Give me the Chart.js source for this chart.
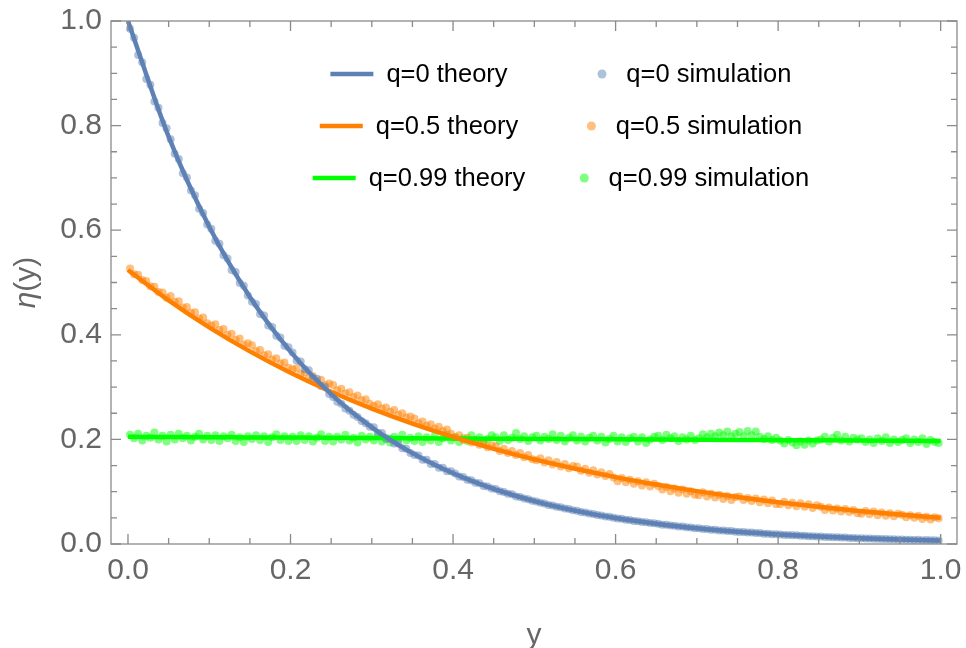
<!DOCTYPE html>
<html>
<head>
<meta charset="utf-8">
<title>eta(y)</title>
<script src="https://cdn.jsdelivr.net/npm/chart.js@4.4.1/dist/chart.umd.min.js"></script>
<style>
  html, body { margin: 0; padding: 0; background: #ffffff; }
  #wrap { width: 966px; height: 648px; }
</style>
</head>
<body>
<div id="wrap"><canvas id="eta-canvas"></canvas></div>
<script>
/* ================================================
   DATA
================================================ */

const seriesLabels = [
  'q=0 theory', 'q=0.5 theory', 'q=0.99 theory',
  'q=0 simulation', 'q=0.5 simulation', 'q=0.99 simulation',
];

const majorTicks = [0, 0.2, 0.4, 0.6, 0.8, 1.0];
const minorTicks = [0, 0.05, 0.1, 0.15, 0.2, 0.25, 0.3, 0.35, 0.4, 0.45, 0.5,
                    0.55, 0.6, 0.65, 0.7, 0.75, 0.8, 0.85, 0.9, 0.95, 1.0];

/* theory curves, read every 0.05 */
const theoryX = [0, 0.05, 0.1, 0.15, 0.2, 0.25, 0.3, 0.35, 0.4, 0.45, 0.5,
                 0.55, 0.6, 0.65, 0.7, 0.75, 0.8, 0.85, 0.9, 0.95, 1.0];
const q0Theory   = [1.000, 0.7788, 0.6065, 0.4724, 0.3679, 0.2865, 0.2231, 0.1738, 0.1353, 0.1054, 0.0821,
                    0.0639, 0.0498, 0.0388, 0.0302, 0.0235, 0.0183, 0.0143, 0.0111, 0.0087, 0.0067];
const q05Theory  = [0.524, 0.4659, 0.4143, 0.3683, 0.3275, 0.2912, 0.2589, 0.2302, 0.2047, 0.1820, 0.1618,
                    0.1439, 0.1279, 0.1138, 0.1011, 0.0899, 0.0800, 0.0711, 0.0632, 0.0562, 0.0500];
const q099Theory = [0.2050, 0.2046, 0.2042, 0.2038, 0.2034, 0.2030, 0.2026, 0.2022, 0.2018, 0.2014, 0.2010,
                    0.2006, 0.2002, 0.1998, 0.1994, 0.1990, 0.1986, 0.1982, 0.1978, 0.1974, 0.1970];

/* simulation, bin centres */
const simX = [
  0.0025, 0.0075, 0.0125, 0.0175, 0.0225, 0.0275, 0.0325, 0.0375, 0.0425, 0.0475,
  0.0525, 0.0575, 0.0625, 0.0675, 0.0725, 0.0775, 0.0825, 0.0875, 0.0925, 0.0975,
  0.1025, 0.1075, 0.1125, 0.1175, 0.1225, 0.1275, 0.1325, 0.1375, 0.1425, 0.1475,
  0.1525, 0.1575, 0.1625, 0.1675, 0.1725, 0.1775, 0.1825, 0.1875, 0.1925, 0.1975,
  0.2025, 0.2075, 0.2125, 0.2175, 0.2225, 0.2275, 0.2325, 0.2375, 0.2425, 0.2475,
  0.2525, 0.2575, 0.2625, 0.2675, 0.2725, 0.2775, 0.2825, 0.2875, 0.2925, 0.2975,
  0.3025, 0.3075, 0.3125, 0.3175, 0.3225, 0.3275, 0.3325, 0.3375, 0.3425, 0.3475,
  0.3525, 0.3575, 0.3625, 0.3675, 0.3725, 0.3775, 0.3825, 0.3875, 0.3925, 0.3975,
  0.4025, 0.4075, 0.4125, 0.4175, 0.4225, 0.4275, 0.4325, 0.4375, 0.4425, 0.4475,
  0.4525, 0.4575, 0.4625, 0.4675, 0.4725, 0.4775, 0.4825, 0.4875, 0.4925, 0.4975,
  0.5025, 0.5075, 0.5125, 0.5175, 0.5225, 0.5275, 0.5325, 0.5375, 0.5425, 0.5475,
  0.5525, 0.5575, 0.5625, 0.5675, 0.5725, 0.5775, 0.5825, 0.5875, 0.5925, 0.5975,
  0.6025, 0.6075, 0.6125, 0.6175, 0.6225, 0.6275, 0.6325, 0.6375, 0.6425, 0.6475,
  0.6525, 0.6575, 0.6625, 0.6675, 0.6725, 0.6775, 0.6825, 0.6875, 0.6925, 0.6975,
  0.7025, 0.7075, 0.7125, 0.7175, 0.7225, 0.7275, 0.7325, 0.7375, 0.7425, 0.7475,
  0.7525, 0.7575, 0.7625, 0.7675, 0.7725, 0.7775, 0.7825, 0.7875, 0.7925, 0.7975,
  0.8025, 0.8075, 0.8125, 0.8175, 0.8225, 0.8275, 0.8325, 0.8375, 0.8425, 0.8475,
  0.8525, 0.8575, 0.8625, 0.8675, 0.8725, 0.8775, 0.8825, 0.8875, 0.8925, 0.8975,
  0.9025, 0.9075, 0.9125, 0.9175, 0.9225, 0.9275, 0.9325, 0.9375, 0.9425, 0.9475,
  0.9525, 0.9575, 0.9625, 0.9675, 0.9725, 0.9775, 0.9825, 0.9875, 0.9925, 0.9975,
];

const q0Sim = [
  0.985, 0.968, 0.935, 0.921, 0.889, 0.878, 0.846, 0.834, 0.805, 0.795,
  0.774, 0.746, 0.736, 0.709, 0.701, 0.676, 0.667, 0.641, 0.633, 0.611,
  0.603, 0.580, 0.574, 0.552, 0.546, 0.524, 0.520, 0.499, 0.494, 0.475,
  0.463, 0.459, 0.440, 0.437, 0.418, 0.415, 0.398, 0.395, 0.379, 0.376,
  0.366, 0.351, 0.349, 0.334, 0.332, 0.318, 0.316, 0.302, 0.300, 0.287,
  0.281, 0.272, 0.268, 0.259, 0.255, 0.247, 0.243, 0.235, 0.231, 0.224,
  0.223, 0.212, 0.212, 0.201, 0.201, 0.192, 0.192, 0.183, 0.182, 0.174,
  0.170, 0.169, 0.161, 0.161, 0.153, 0.153, 0.146, 0.146, 0.139, 0.139,
  0.135, 0.129, 0.128, 0.123, 0.122, 0.117, 0.116, 0.111, 0.110, 0.106,
  0.105, 0.101, 0.0995, 0.096, 0.095, 0.091, 0.090, 0.087, 0.0858, 0.0826,
  0.0815, 0.0787, 0.0775, 0.0748, 0.0738, 0.0711, 0.0702, 0.0677, 0.0668, 0.0643,
  0.0635, 0.0612, 0.0604, 0.0583, 0.0574, 0.0554, 0.0546, 0.0527, 0.0520, 0.0501,
  0.0489, 0.0483, 0.0465, 0.0459, 0.0442, 0.0437, 0.0420, 0.0416, 0.0400, 0.0396,
  0.0386, 0.0370, 0.0367, 0.0352, 0.0349, 0.0335, 0.0333, 0.0318, 0.0316, 0.0303,
  0.0301, 0.0288, 0.0287, 0.0274, 0.0273, 0.0260, 0.0260, 0.0247, 0.0247, 0.0235,
  0.0230, 0.0230, 0.0219, 0.0219, 0.0208, 0.0208, 0.0198, 0.0198, 0.0188, 0.0187,
  0.0183, 0.0174, 0.0174, 0.0166, 0.0166, 0.0158, 0.0158, 0.0150, 0.0150, 0.0142,
  0.0143, 0.0135, 0.0136, 0.0129, 0.0129, 0.0122, 0.0123, 0.0116, 0.0117, 0.0111,
  0.0112, 0.0105, 0.0106, 0.0100, 0.0101, 0.0095, 0.0096, 0.0090, 0.0092, 0.0086,
  0.0087, 0.0081, 0.0083, 0.0077, 0.0079, 0.0073, 0.0076, 0.0070, 0.0072, 0.0066,
];

const q05Sim = [
  0.527, 0.516, 0.515, 0.505, 0.503, 0.493, 0.492, 0.482, 0.481, 0.471,
  0.474, 0.463, 0.464, 0.452, 0.453, 0.442, 0.443, 0.431, 0.433, 0.422,
  0.418, 0.420, 0.409, 0.411, 0.400, 0.402, 0.390, 0.393, 0.381, 0.384,
  0.380, 0.369, 0.371, 0.361, 0.363, 0.353, 0.355, 0.345, 0.347, 0.337,
  0.334, 0.336, 0.325, 0.328, 0.318, 0.321, 0.311, 0.314, 0.304, 0.307,
  0.304, 0.294, 0.297, 0.288, 0.290, 0.281, 0.284, 0.275, 0.277, 0.268,
  0.264, 0.267, 0.259, 0.261, 0.253, 0.256, 0.247, 0.250, 0.242, 0.244,
  0.240, 0.231, 0.234, 0.226, 0.229, 0.221, 0.224, 0.216, 0.219, 0.211,
  0.204, 0.208, 0.199, 0.203, 0.194, 0.198, 0.190, 0.194, 0.185, 0.189,
  0.187, 0.178, 0.182, 0.174, 0.178, 0.170, 0.174, 0.166, 0.170, 0.162,
  0.160, 0.164, 0.156, 0.160, 0.152, 0.157, 0.148, 0.153, 0.145, 0.149,
  0.148, 0.140, 0.144, 0.136, 0.141, 0.133, 0.137, 0.130, 0.134, 0.127,
  0.120, 0.126, 0.118, 0.123, 0.115, 0.120, 0.112, 0.118, 0.110, 0.115,
  0.111, 0.104, 0.109, 0.101, 0.106, 0.098, 0.104, 0.096, 0.101, 0.094,
  0.093, 0.099, 0.091, 0.096, 0.089, 0.094, 0.086, 0.092, 0.084, 0.090,
  0.091, 0.084, 0.088, 0.082, 0.087, 0.080, 0.085, 0.078, 0.083, 0.076,
  0.076, 0.081, 0.074, 0.079, 0.072, 0.078, 0.071, 0.076, 0.069, 0.074,
  0.071, 0.065, 0.070, 0.064, 0.068, 0.062, 0.067, 0.061, 0.065, 0.059,
  0.058, 0.063, 0.057, 0.062, 0.055, 0.060, 0.054, 0.059, 0.053, 0.058,
  0.056, 0.051, 0.055, 0.050, 0.054, 0.048, 0.052, 0.047, 0.051, 0.049,
];

const q099Sim = [
  0.209, 0.202, 0.211, 0.198, 0.207, 0.203, 0.213, 0.200, 0.207, 0.196,
  0.209, 0.200, 0.211, 0.202, 0.207, 0.198, 0.205, 0.211, 0.200, 0.207,
  0.199, 0.208, 0.197, 0.206, 0.202, 0.209, 0.197, 0.204, 0.195, 0.206,
  0.201, 0.208, 0.199, 0.206, 0.195, 0.204, 0.210, 0.199, 0.206, 0.197,
  0.205, 0.197, 0.208, 0.199, 0.206, 0.196, 0.203, 0.210, 0.197, 0.205,
  0.196, 0.205, 0.200, 0.209, 0.198, 0.203, 0.194, 0.207, 0.200, 0.205,
  0.198, 0.207, 0.196, 0.203, 0.194, 0.205, 0.200, 0.209, 0.198, 0.203,
  0.197, 0.206, 0.195, 0.204, 0.198, 0.207, 0.195, 0.202, 0.209, 0.198,
  0.204, 0.195, 0.202, 0.197, 0.208, 0.199, 0.204, 0.195, 0.201, 0.208,
  0.204, 0.197, 0.208, 0.199, 0.203, 0.212, 0.201, 0.206, 0.197, 0.204,
  0.207, 0.198, 0.205, 0.201, 0.210, 0.199, 0.207, 0.196, 0.203, 0.208,
  0.198, 0.205, 0.196, 0.203, 0.207, 0.198, 0.205, 0.194, 0.201, 0.207,
  0.196, 0.204, 0.195, 0.202, 0.205, 0.196, 0.204, 0.193, 0.200, 0.205,
  0.207, 0.199, 0.209, 0.202, 0.206, 0.197, 0.204, 0.200, 0.207, 0.199,
  0.202, 0.210, 0.204, 0.211, 0.206, 0.213, 0.208, 0.215, 0.206, 0.211,
  0.214, 0.206, 0.216, 0.208, 0.215, 0.205, 0.201, 0.206, 0.199, 0.203,
  0.198, 0.192, 0.199, 0.194, 0.189, 0.196, 0.190, 0.198, 0.192, 0.198,
  0.200, 0.205, 0.196, 0.203, 0.209, 0.198, 0.205, 0.196, 0.203, 0.200,
  0.202, 0.195, 0.200, 0.193, 0.202, 0.197, 0.204, 0.193, 0.200, 0.195,
  0.199, 0.202, 0.193, 0.200, 0.195, 0.202, 0.191, 0.199, 0.195, 0.193,
];

/* ================================================
   STYLE
================================================ */

const FONT   = '"Liberation Sans", Arial, sans-serif';
const BLUE   = '#5e81b5';
const ORANGE = '#ff8000';
const GREEN  = '#00ff00';
const FRAME  = '#8a8a8a';
const LABEL  = '#666666';

const pts = (xs, ys) => xs.map((x, i) => ({ x, y: ys[i] }));

function theorySet(label, xs, ys, color) {
  return {
    label,
    data:                   pts(xs, ys),
    showLine:               true,
    borderColor:            color,
    backgroundColor:        color,
    borderWidth:            4.5,
    pointRadius:            0,
    cubicInterpolationMode: 'monotone',
  };
}

function simSet(label, xs, ys, fill) {
  return {
    label,
    data:             pts(xs, ys),
    showLine:         false,
    backgroundColor:  fill,
    borderWidth:      0,
    pointRadius:      4,
    pointHoverRadius: 4,
  };
}

/* ================================================
   PLUGINS  (frame, ticks, legend, y title)
================================================ */

const framePlugin = {
  id: 'frame',
  afterDatasetsDraw(chart) {
    const { ctx, chartArea: a, scales } = chart;
    const xs = scales.x, ys = scales.y;
    ctx.save();
    ctx.strokeStyle = FRAME;
    ctx.lineWidth   = 1.3;
    ctx.strokeRect(a.left, a.top, a.right - a.left, a.bottom - a.top);

    ctx.beginPath();
    minorTicks.forEach(v => {
      const len = majorTicks.includes(v) ? 10 : 6;
      const px = xs.getPixelForValue(v);
      ctx.moveTo(px, a.bottom); ctx.lineTo(px, a.bottom - len);
      ctx.moveTo(px, a.top);    ctx.lineTo(px, a.top + len);
      const py = ys.getPixelForValue(v);
      ctx.moveTo(a.left, py);   ctx.lineTo(a.left + len, py);
      ctx.moveTo(a.right, py);  ctx.lineTo(a.right - len, py);
    });
    ctx.stroke();
    ctx.restore();
  },
};

const legendPlugin = {
  id: 'pairLegend',
  afterDraw(chart) {
    const { ctx } = chart;
    const ds = chart.data.datasets;
    ctx.save();
    ctx.font         = '25.5px ' + FONT;
    ctx.textBaseline = 'middle';

    for (let i = 0; i < 3; i++) {
      const y = 75 + i * 52;

      /* theory column */
      const t  = ds[i];
      const tw = ctx.measureText(t.label).width;
      let x0   = 419 - (43 + 13 + tw) / 2;
      ctx.strokeStyle = t.borderColor;
      ctx.lineWidth   = 4.5;
      ctx.beginPath();
      ctx.moveTo(x0, y - 1); ctx.lineTo(x0 + 43, y - 1);
      ctx.stroke();
      ctx.fillStyle = '#000000';
      ctx.fillText(t.label, x0 + 56, y);

      /* simulation column */
      const s  = ds[i + 3];
      const sw = ctx.measureText(s.label).width;
      x0 = 694.5 - (4.5 + 24.3 + sw) / 2;
      ctx.fillStyle = s.backgroundColor;
      ctx.beginPath();
      ctx.arc(x0 + 4.5, y - 1, 4.5, 0, Math.PI * 2);
      ctx.fill();
      ctx.fillStyle = '#000000';
      ctx.fillText(s.label, x0 + 4.5 + 24.3, y);
    }
    ctx.restore();
  },
};

const yTitlePlugin = {
  id: 'yTitle',
  afterDraw(chart) {
    const { ctx, chartArea: a } = chart;
    const italic = 'italic 30px ' + FONT;
    const plain  = '30px ' + FONT;
    ctx.save();
    ctx.translate(27, (a.top + a.bottom) / 2);
    ctx.rotate(-Math.PI / 2);
    ctx.fillStyle    = LABEL;
    ctx.textBaseline = 'middle';
    ctx.font = italic;
    const w1 = ctx.measureText('η').width;
    ctx.font = plain;
    const w2 = ctx.measureText('(y)').width;
    const x0 = -(w1 + w2) / 2;
    ctx.font = italic;
    ctx.fillText('η', x0, 0);
    ctx.font = plain;
    ctx.fillText('(y)', x0 + w1, 0);
    ctx.restore();
  },
};

/* ================================================
   CHART
================================================ */

const setTicks = scale => { scale.ticks = majorTicks.map(v => ({ value: v })); };

/* fixed axis boxes, no label overhang padding */
const fixBox = size => scale => {
  if (scale.isHorizontal()) scale.height = size; else scale.width = size;
  scale.paddingTop = scale.paddingBottom = scale.paddingLeft = scale.paddingRight = 0;
};

new Chart(document.getElementById('eta-canvas').getContext('2d'), {
  type: 'scatter',
  data: {
    datasets: [
      theorySet(seriesLabels[0], theoryX, q0Theory,   BLUE),
      theorySet(seriesLabels[1], theoryX, q05Theory,  ORANGE),
      theorySet(seriesLabels[2], theoryX, q099Theory, GREEN),
      simSet(seriesLabels[3], simX, q0Sim,   'rgba(94,129,181,0.5)'),
      simSet(seriesLabels[4], simX, q05Sim,  'rgba(255,128,0,0.5)'),
      simSet(seriesLabels[5], simX, q099Sim, 'rgba(0,255,0,0.5)'),
    ],
  },
  options: {
    responsive:          true,
    maintainAspectRatio: false,
    animation:           false,
    layout: { padding: { left: 0, right: 9, top: 21, bottom: 0 } },
    plugins: {
      legend:  { display: false },
      tooltip: { enabled: false },
    },
    scales: {
      x: {
        type: 'linear',
        min:  -0.0209,
        max:  1.0201,
        afterBuildTicks: setTicks,
        afterFit: fixBox(104),
        grid:   { display: false, drawTicks: false },
        border: { display: false },
        ticks: {
          color:       LABEL,
          font:        { family: FONT, size: 30 },
          padding:     9,
          maxRotation: 0,
          autoSkip:    false,
          callback:    v => v.toFixed(1),
        },
        title: {
          display: true,
          text:    'y',
          color:   LABEL,
          font:    { family: FONT, size: 30, lineHeight: 0.85 },
          padding: { top: 0, bottom: 0 },
        },
      },
      y: {
        type: 'linear',
        min:  0,
        max:  1,
        afterBuildTicks: setTicks,
        afterFit: fixBox(111),
        grid:   { display: false, drawTicks: false },
        border: { display: false },
        ticks: {
          color:    LABEL,
          font:     { family: FONT, size: 30 },
          padding:  9,
          autoSkip: false,
          callback: v => v.toFixed(1),
        },
      },
    },
  },
  plugins: [framePlugin, legendPlugin, yTitlePlugin],
});
</script>
</body>
</html>
